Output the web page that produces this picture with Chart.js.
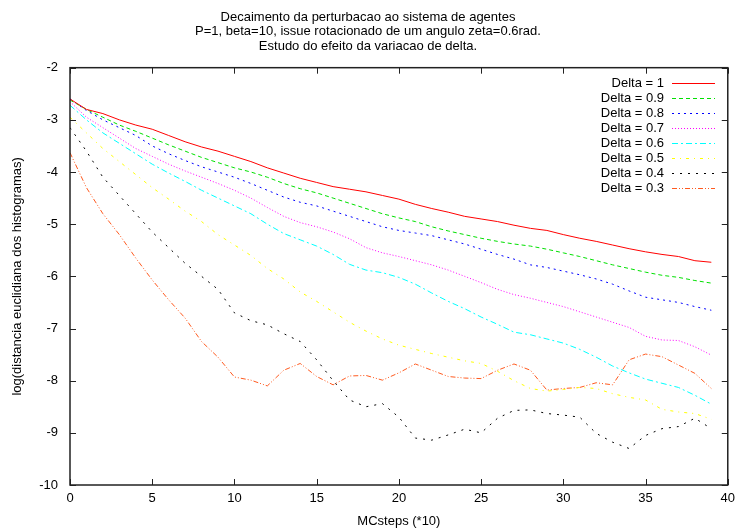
<!DOCTYPE html>
<html>
<head>
<meta charset="utf-8">
<script src="https://cdn.jsdelivr.net/npm/chart.js@4"></script>
<style>
  html, body { margin: 0; padding: 0; background: #fff; }
  #wrap { width: 741px; height: 529px; }
</style>
</head>
<body>
<div id="wrap"><canvas id="decayChart" width="741" height="529"></canvas></div>
<script>
// MC steps (*10)
const steps = [0,1,2,3,4,5,6,7,8,9,10,11,12,13,14,15,16,17,18,19,20,21,22,23,24,25,26,27,28,29,30,31,32,33,34,35,36,37,38,39];

const delta10 = [-2.6,-2.8,-2.88,-3.0,-3.1,-3.18,-3.3,-3.42,-3.52,-3.6,-3.7,-3.8,-3.92,-4.02,-4.12,-4.2,-4.28,-4.33,-4.38,-4.45,-4.52,-4.62,-4.7,-4.77,-4.85,-4.9,-4.95,-5.02,-5.08,-5.12,-5.2,-5.27,-5.33,-5.4,-5.47,-5.53,-5.58,-5.62,-5.7,-5.73];
const delta09 = [-2.62,-2.8,-2.95,-3.1,-3.22,-3.35,-3.48,-3.6,-3.72,-3.82,-3.92,-4.0,-4.1,-4.22,-4.32,-4.4,-4.5,-4.6,-4.7,-4.8,-4.88,-4.95,-5.05,-5.13,-5.2,-5.27,-5.33,-5.38,-5.42,-5.48,-5.55,-5.62,-5.7,-5.78,-5.85,-5.92,-5.98,-6.02,-6.08,-6.13];
const delta08 = [-2.6,-2.82,-3.0,-3.15,-3.3,-3.5,-3.65,-3.78,-3.9,-4.0,-4.1,-4.22,-4.35,-4.48,-4.58,-4.65,-4.75,-4.85,-4.95,-5.05,-5.12,-5.17,-5.22,-5.3,-5.38,-5.48,-5.58,-5.67,-5.78,-5.83,-5.9,-5.97,-6.05,-6.15,-6.28,-6.4,-6.45,-6.5,-6.58,-6.65];
const delta07 = [-2.65,-2.95,-3.15,-3.35,-3.55,-3.7,-3.85,-3.98,-4.1,-4.22,-4.35,-4.5,-4.68,-4.85,-4.97,-5.05,-5.15,-5.28,-5.45,-5.55,-5.62,-5.7,-5.78,-5.88,-6.0,-6.12,-6.25,-6.35,-6.42,-6.5,-6.58,-6.68,-6.78,-6.88,-6.98,-7.15,-7.22,-7.23,-7.35,-7.51];
const delta06 = [-2.72,-3.0,-3.25,-3.45,-3.65,-3.85,-4.02,-4.18,-4.35,-4.5,-4.65,-4.8,-5.0,-5.18,-5.3,-5.42,-5.58,-5.77,-5.88,-5.93,-6.02,-6.15,-6.32,-6.48,-6.62,-6.78,-6.92,-7.07,-7.12,-7.2,-7.28,-7.4,-7.55,-7.72,-7.85,-7.97,-8.05,-8.13,-8.28,-8.45];
const delta05 = [-2.95,-3.25,-3.55,-3.8,-4.05,-4.3,-4.52,-4.75,-4.95,-5.2,-5.4,-5.6,-5.85,-6.05,-6.3,-6.48,-6.68,-6.88,-7.05,-7.2,-7.32,-7.4,-7.48,-7.55,-7.62,-7.67,-7.82,-8.0,-8.15,-8.2,-8.17,-8.13,-8.15,-8.25,-8.32,-8.37,-8.55,-8.6,-8.63,-8.74];
const delta04 = [-3.15,-3.6,-4.1,-4.45,-4.8,-5.15,-5.45,-5.75,-6.0,-6.25,-6.7,-6.85,-6.93,-7.1,-7.25,-7.6,-8.0,-8.37,-8.5,-8.44,-8.7,-9.1,-9.14,-9.04,-8.93,-9.0,-8.72,-8.57,-8.56,-8.63,-8.66,-8.7,-9.01,-9.18,-9.3,-9.05,-8.92,-8.88,-8.72,-8.92];
const delta03 = [-3.63,-4.3,-4.8,-5.2,-5.65,-6.07,-6.45,-6.8,-7.25,-7.55,-7.93,-7.99,-8.1,-7.8,-7.67,-7.92,-8.08,-7.91,-7.9,-7.99,-7.85,-7.68,-7.8,-7.92,-7.95,-7.96,-7.8,-7.68,-7.8,-8.18,-8.15,-8.13,-8.04,-8.08,-7.6,-7.49,-7.54,-7.7,-7.86,-8.15];

const seriesLabels = ['Delta = 1','Delta = 0.9','Delta = 0.8','Delta = 0.7','Delta = 0.6','Delta = 0.5','Delta = 0.4','Delta = 0.3'];
const seriesValues = [delta10, delta09, delta08, delta07, delta06, delta05, delta04, delta03];
const seriesColors = ['#ff0000','#00e000','#0000ff','#ff00ff','#00ffff','#ffff00','#000000','#ff5a1f'];
const seriesDashes = [[], [4,3], [2,4], [1,2], [6,3,2,3], [3,5,1,5], [2,6], [5,2,1,2,1,2]];

const xTicks = [0,5,10,15,20,25,30,35,40];
const yTicks = [-2,-3,-4,-5,-6,-7,-8,-9,-10];

const FONT = "'Liberation Sans', Arial, Helvetica, sans-serif";

// frame + inward ticks on all four sides (gnuplot style)
const framePlugin = {
    id: 'frame',
    afterDatasetsDraw(chart) {
        const { ctx, chartArea: a, scales } = chart;
        ctx.save();
        ctx.strokeStyle = '#222';
        ctx.lineWidth = 1;
        xTicks.forEach(function (v) {
            const px = Math.round(scales.x.getPixelForValue(v)) + 0.5;
            ctx.beginPath();
            ctx.moveTo(px, a.bottom); ctx.lineTo(px, a.bottom - 6);
            ctx.moveTo(px, a.top); ctx.lineTo(px, a.top + 6);
            ctx.stroke();
        });
        yTicks.forEach(function (v) {
            const py = Math.round(scales.y.getPixelForValue(v)) + 0.5;
            ctx.beginPath();
            ctx.moveTo(a.left, py); ctx.lineTo(a.left + 6, py);
            ctx.moveTo(a.right, py); ctx.lineTo(a.right - 6, py);
            ctx.stroke();
        });
        ctx.lineWidth = 1.5;
        ctx.strokeRect(a.left, a.top, a.right - a.left, a.bottom - a.top);
        ctx.restore();
    }
};

// legend inside the plot, text right-aligned then the line sample
const keyPlugin = {
    id: 'key',
    afterDraw(chart) {
        const ctx = chart.ctx;
        ctx.save();
        ctx.font = '13px ' + FONT;
        ctx.textAlign = 'right';
        ctx.textBaseline = 'middle';
        chart.data.datasets.forEach(function (ds, i) {
            const y = 83 + i * 15;
            ctx.fillStyle = '#000';
            ctx.fillText(ds.label, 664, y);
            ctx.strokeStyle = ds.borderColor;
            ctx.lineWidth = 1;
            ctx.setLineDash(ds.borderDash);
            ctx.beginPath();
            ctx.moveTo(672, y + 0.5); ctx.lineTo(715, y + 0.5);
            ctx.stroke();
        });
        ctx.restore();
    }
};

const ctxDecay = document.getElementById('decayChart').getContext('2d');
new Chart(ctxDecay, {
    type: 'line',
    data: {
        datasets: seriesLabels.map(function (lbl, i) {
            return {
                label: lbl,
                data: steps.map(function (s, k) { return { x: s, y: seriesValues[i][k] }; }),
                borderColor: seriesColors[i],
                borderDash: seriesDashes[i],
                borderWidth: 1,
                pointRadius: 0,
                fill: false,
                tension: 0
            };
        })
    },
    options: {
        responsive: false,
        animation: false,
        layout: { padding: { right: 5, left: 0, top: 0, bottom: 0 } },
        plugins: {
            legend: { display: false },
            tooltip: { enabled: false },
            title: {
                display: true,
                text: ['Decaimento da perturbacao ao sistema de agentes',
                       'P=1, beta=10, issue rotacionado de um angulo zeta=0.6rad.',
                       'Estudo do efeito da variacao de delta.'],
                color: '#000',
                font: { family: FONT, size: 13, weight: 'normal', lineHeight: 1.12 },
                padding: { top: 10, bottom: 14 }
            }
        },
        scales: {
            x: {
                type: 'linear',
                min: 0, max: 40,
                afterBuildTicks(scale) { scale.ticks = xTicks.map(function (v) { return { value: v }; }); },
                afterFit(scale) { scale.height = 44; },
                grid: { display: false, drawTicks: false },
                border: { display: false },
                ticks: { color: '#000', font: { family: FONT, size: 13 }, padding: 6, maxRotation: 0 },
                title: { display: true, text: 'MCsteps (*10)', color: '#000',
                         font: { family: FONT, size: 13 }, padding: { top: 0, bottom: 0 } }
            },
            y: {
                min: -10, max: -2,
                afterBuildTicks(scale) { scale.ticks = yTicks.map(function (v) { return { value: v }; }); },
                afterFit(scale) { scale.width = 70; },
                grid: { display: false, drawTicks: false },
                border: { display: false },
                ticks: { color: '#000', font: { family: FONT, size: 13 }, padding: 12 },
                title: { display: true, text: 'log(distancia euclidiana dos histogramas)', color: '#000',
                         font: { family: FONT, size: 13 }, padding: { top: 10, bottom: 0 } }
            }
        }
    },
    plugins: [framePlugin, keyPlugin]
});
</script>
</body>
</html>
